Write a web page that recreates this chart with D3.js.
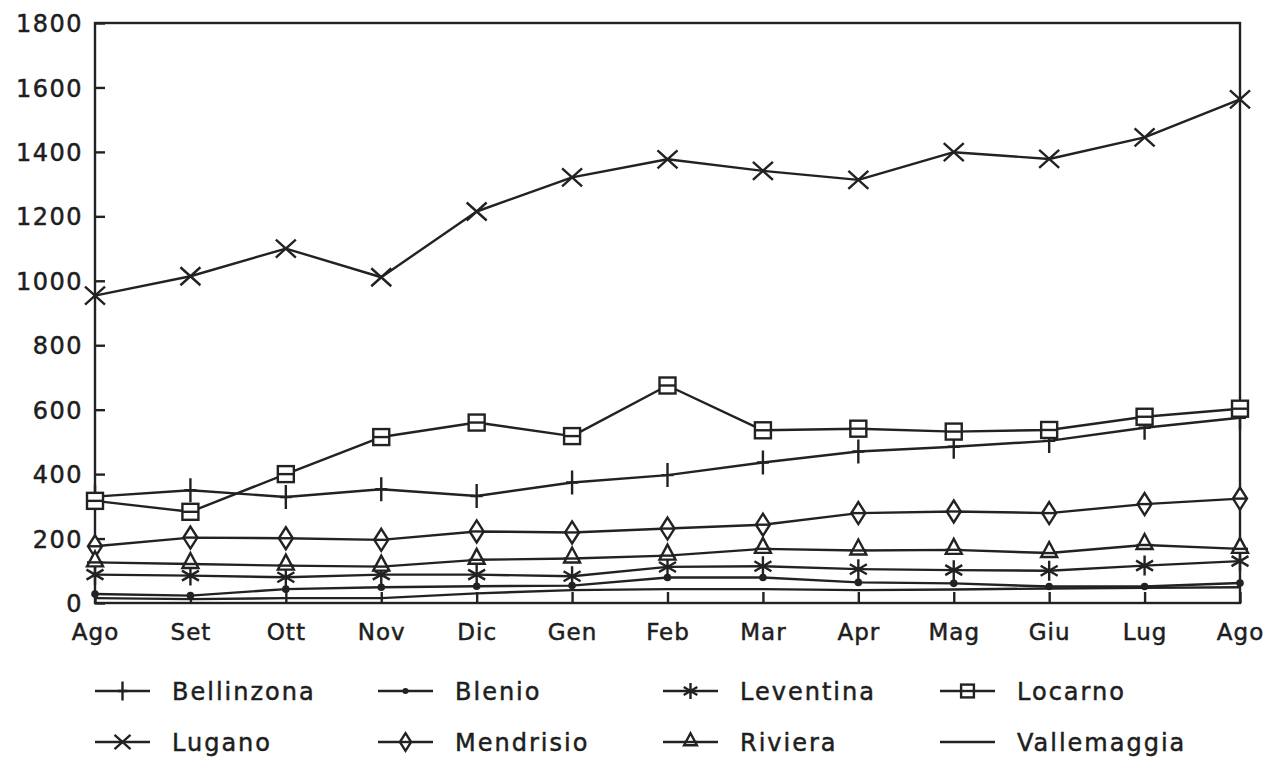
<!DOCTYPE html>
<html><head><meta charset="utf-8">
<script src="https://cdn.jsdelivr.net/npm/d3@7"></script>
<style>
html,body{margin:0;padding:0;background:#fff;}
svg text{font-family:"DejaVu Sans",sans-serif;fill:#1e1e1e;stroke:#1e1e1e;stroke-width:0.5px;}
</style></head>
<body><svg id="c" width="1268" height="781"></svg>
<script>
const months = ["Ago","Set","Ott","Nov","Dic","Gen","Feb","Mar","Apr","Mag","Giu","Lug","Ago"];
const yTicks = [0,200,400,600,800,1000,1200,1400,1600,1800];
const seriesNames = ["Bellinzona","Blenio","Leventina","Locarno","Lugano","Mendrisio","Riviera","Vallemaggia"];
const seriesMarkers = ["plus","dot","star","square","cross","diamond","triangle","none"];
const bellinzona = [330, 350, 329, 353, 332, 374, 397, 436, 470, 485, 503, 544, 575];
const blenio = [28, 23, 43, 49, 52, 54, 79, 79, 64, 61, 51, 51, 62];
const leventina = [88, 85, 80, 88, 88, 83, 112, 114, 105, 102, 100, 116, 130];
const locarno = [317, 283, 400, 515, 560, 518, 675, 536, 541, 532, 537, 578, 603];
const lugano = [954, 1014, 1100, 1011, 1215, 1321, 1377, 1341, 1313, 1399, 1378, 1445, 1563];
const mendrisio = [176, 203, 201, 196, 222, 219, 231, 243, 279, 284, 279, 307, 324];
const riviera = [126, 121, 116, 113, 134, 138, 147, 168, 163, 165, 155, 180, 168];
const vallemaggia = [15, 12, 15, 15, 30, 40, 43, 43, 40, 42, 45, 47, 49];
const seriesValues = [bellinzona, blenio, leventina, locarno, lugano, mendrisio, riviera, vallemaggia];

const ink = "#222";
const svg = d3.select("#c");
const L = 95, R = 1240, T = 23, B = 603;
const x = d3.scaleLinear().domain([0, months.length - 1]).range([L, R]);
const y = d3.scaleLinear().domain([0, 1800]).range([B, T]);

// frame
svg.append("rect").attr("x", L).attr("y", T).attr("width", R - L).attr("height", B - T)
  .attr("fill", "none").attr("stroke", ink).attr("stroke-width", 2.4);

// y axis
const yAxis = d3.axisLeft(y).tickValues(yTicks).tickSize(-10).tickPadding(12).tickFormat(d3.format("d"));
const gy = svg.append("g").attr("transform", `translate(${L},0)`).call(yAxis);
gy.select(".domain").remove();
gy.selectAll(".tick line").attr("stroke", ink).attr("stroke-width", 2.4);
gy.selectAll(".tick text").attr("font-size", 24).attr("letter-spacing", "1.5px").attr("fill", "#1e1e1e").attr("dy", "0.36em");

// x axis
const xAxis = d3.axisBottom(x).tickValues(d3.range(months.length)).tickSize(-11).tickPadding(21).tickFormat(i => months[i]);
const gx = svg.append("g").attr("transform", `translate(0,${B})`).call(xAxis);
gx.select(".domain").remove();
gx.selectAll(".tick line").attr("stroke", ink).attr("stroke-width", 2.4);
gx.selectAll(".tick text").attr("font-size", 23).attr("letter-spacing", "1px").attr("fill", "#1e1e1e").attr("dy", "0.7em");

function marker(g, type, cx, cy, sc) {
  const s = g.append("g").attr("transform", `translate(${cx},${cy}) scale(${sc || 1})`)
    .attr("stroke", ink).attr("stroke-width", 2.4 / (sc || 1)).attr("fill", "none");
  if (type === "plus") {
    s.append("path").attr("d", "M0,-12V12M-6,0H6");
  } else if (type === "dot") {
    s.append("circle").attr("r", 3.8).attr("fill", ink).attr("stroke", "none");
  } else if (type === "star") {
    s.append("path").attr("d", "M0,-10V10M-8.5,-5L8.5,5M-8.5,5L8.5,-5");
  } else if (type === "square") {
    s.append("rect").attr("x", -8).attr("y", -8).attr("width", 16).attr("height", 16).attr("fill", "#fff");
    s.append("path").attr("d", "M-8,0H8");
  } else if (type === "cross") {
    s.append("path").attr("d", "M-10,-9L10,9M-10,9L10,-9");
  } else if (type === "diamond") {
    s.append("path").attr("d", "M0,-11L7,0L0,11L-7,0Z").attr("fill", "#fff");
    s.append("path").attr("d", "M-7,0H7");
  } else if (type === "triangle") {
    s.append("path").attr("d", "M0,-11L8,4L-8,4Z").attr("fill", "#fff");
    s.append("path").attr("d", "M-8,0H8");
  }
}

const line = d3.line().x((d, i) => x(i)).y(d => y(d));
seriesValues.forEach((vals, k) => {
  svg.append("path").datum(vals).attr("d", line).attr("fill", "none")
    .attr("stroke", ink).attr("stroke-width", 2.4).attr("stroke-linejoin", "round");
});
seriesValues.forEach((vals, k) => {
  const g = svg.append("g");
  vals.forEach((v, i) => marker(g, seriesMarkers[k], x(i), y(v)));
});

// legend
const legX = [95, 378, 663, 940];
const legY = [691, 742];
seriesNames.forEach((name, k) => {
  const col = k % 4, row = Math.floor(k / 4);
  const lx = legX[col], ly = legY[row];
  const g = svg.append("g");
  g.append("line").attr("x1", lx).attr("x2", lx + 55).attr("y1", ly).attr("y2", ly)
    .attr("stroke", ink).attr("stroke-width", 2.4);
  marker(g, seriesMarkers[k], lx + 27.5, ly, 0.8);
  g.append("text").attr("x", lx + 77).attr("y", ly).attr("dy", "0.36em")
    .attr("font-size", 24).attr("letter-spacing", "2px").text(name);
});
</script></body></html>
